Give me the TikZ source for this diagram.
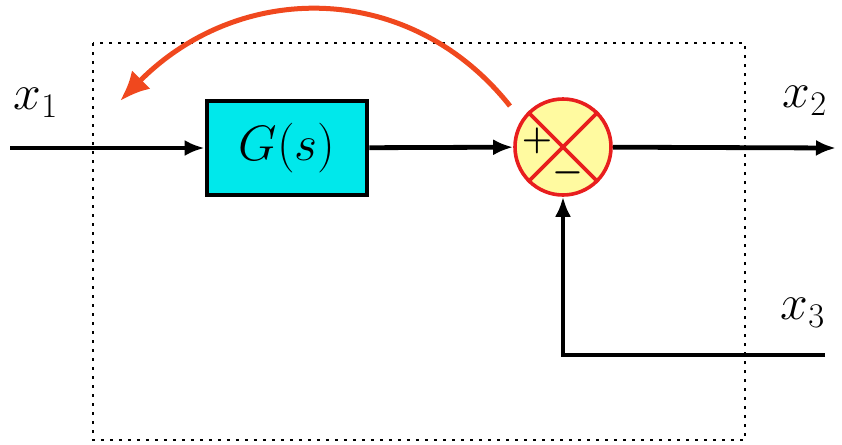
\documentclass[tikz,border=0pt]{standalone}
\usepackage{amsmath}
\usepackage{tikz}
\usetikzlibrary{positioning,arrows.meta}
\definecolor{blockcyan}{RGB}{0,232,235}
\definecolor{sumyellow}{RGB}{255,250,160}
\definecolor{sumred}{RGB}{232,30,30}
\definecolor{fbred}{RGB}{240,72,30}

\begin{document}
\begin{tikzpicture}[x=0.5pt, y=-0.5pt,
  block/.style={draw, line width=2.4pt, fill=blockcyan, minimum width=80pt, minimum height=47pt, inner sep=0pt, font=\fontsize{26}{28}\selectfont},
  sum/.style={circle, draw=sumred, line width=1.8pt, fill=sumyellow, minimum size=48pt, inner sep=0pt},
  sign/.style={inner sep=0pt, font=\fontsize{19}{21}\selectfont\boldmath},
  lbl/.style={inner sep=0pt, font=\fontsize{26}{28}\selectfont},
  arrow/.style={-{Latex[length=10pt,width=8pt]}, line width=2.4pt},
  feedback/.style={-{Latex[length=15pt,width=13pt]}, line width=2.5pt, draw=fbred},
  frame/.style={line width=1.3pt, dash pattern=on 1.3pt off 3.2pt}
]
\useasboundingbox (0,0) rectangle (842,445);
\draw[frame] (93,43) rectangle (745,440);

\node[block] (plant) at (287,148) {$G(s)$};
\node[sum] (sum) at (563,147) {};
\draw[line width=1.8pt, sumred] (sum.north west) -- (sum.south east);
\draw[line width=1.8pt, sumred] (sum.north east) -- (sum.south west);
\node[sign] (plus) at (537,141) {$+$};
\node[sign] (minus) at (568,173) {$-$};

\coordinate (xin) at (10,148);
\coordinate (xout) at (836,148);
\coordinate (xside) at (825,355);
\coordinate (fbstart) at (510,106);
\coordinate (fbend) at (120,101);

\node[lbl] (lblone) at (36,103) {$x_1$};
\node[lbl] (lbltwo) at (805,101) {$x_2$};
\node[lbl] (lblthree) at (803,313) {$x_3$};

\draw[arrow] (xin) -- (plant);
\draw[arrow] (plant) -- (sum);
\draw[arrow] (sum) -- (xout);
\draw[arrow] (xside) -| (sum);
\draw[feedback] (fbstart) .. controls (410,-20) and (240,-20) .. (fbend);
\end{tikzpicture}
\end{document}
